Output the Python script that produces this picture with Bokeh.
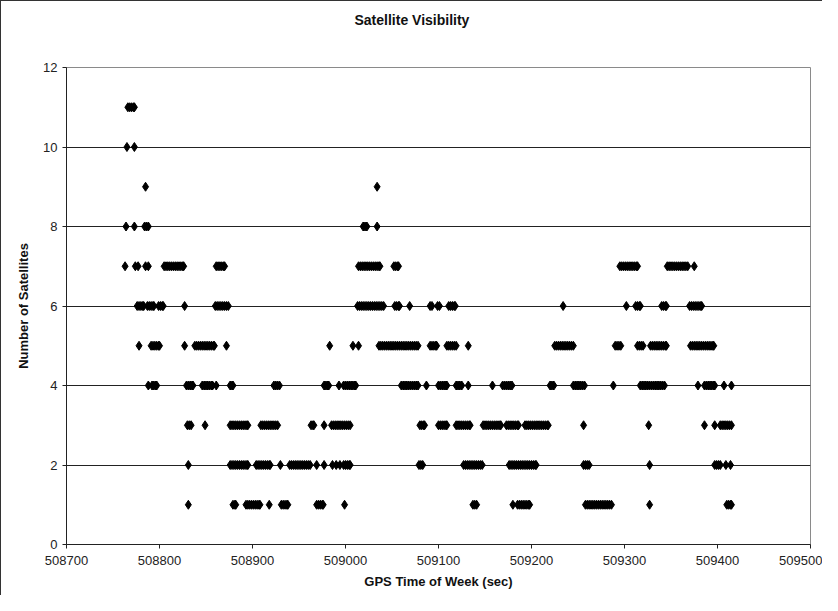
from bokeh.plotting import figure
from bokeh.models import Range1d, FixedTicker, ColumnDataSource, BasicTickFormatter, Title
from bokeh.embed import file_html
from bokeh.resources import INLINE

# ---- data: GPS time (sec) at which each satellite count was observed ----
sats_11 = [508766, 508768, 508770, 508772, 508773]
sats_10 = [508765, 508773]
sats_9 = [508785, 509034]
sats_8 = [508764, 508773, 508784, 508786, 508788, 509019, 509021, 509023, 509034]
sats_7 = [508763, 508774, 508777, 508785, 508788,
          508805, 508807, 508809, 508811, 508813, 508815, 508817, 508819, 508821, 508823, 508825, 508826,
          508861, 508863, 508865, 508867, 508869, 508870,
          509014, 509016, 509018, 509020, 509022, 509024, 509026, 509028, 509030, 509032, 509034, 509036, 509037,
          509052, 509054, 509056, 509057,
          509295, 509297, 509299, 509301, 509303, 509305, 509307, 509309, 509311, 509313, 509314,
          509346, 509348, 509350, 509352, 509354, 509356, 509358, 509360, 509362, 509364, 509366, 509368,
          509375]
sats_6 = [508776, 508778, 508780, 508782, 508783, 508787, 508789, 508791, 508793, 508794,
          508799, 508801, 508803, 508804, 508827,
          508860, 508862, 508864, 508866, 508868, 508870, 508872, 508874,
          509013, 509015, 509017, 509019, 509021, 509023, 509025, 509027, 509029, 509031, 509033, 509035,
          509037, 509039, 509041,
          509053, 509055, 509057, 509058, 509069, 509091, 509093, 509099, 509101,
          509111, 509113, 509115, 509117, 509118, 509234, 509302, 509312, 509314, 509316, 509317,
          509340, 509342, 509344, 509345,
          509370, 509372, 509374, 509376, 509378, 509380, 509382, 509383]
sats_5 = [508778, 508791, 508793, 508795, 508797, 508799, 508800, 508827,
          508838, 508840, 508842, 508844, 508846, 508848, 508850, 508852, 508854, 508856, 508858, 508859, 508872,
          508983, 509008, 509014,
          509036, 509038, 509040, 509042, 509044, 509046, 509048, 509050, 509052, 509054, 509056,
          509058, 509060, 509062, 509064, 509066, 509068, 509070, 509072, 509074, 509076, 509078,
          509091, 509093, 509095, 509097, 509098,
          509109, 509111, 509113, 509115, 509117, 509119, 509132,
          509225, 509227, 509229, 509231, 509233, 509235, 509237, 509239, 509241, 509243, 509245,
          509290, 509292, 509294, 509296,
          509314, 509316, 509318, 509320,
          509328, 509330, 509332, 509334, 509336, 509338, 509340, 509342, 509344, 509345,
          509371, 509373, 509375, 509377, 509379, 509381, 509383, 509385, 509387, 509389, 509391,
          509393, 509395, 509396]
sats_4 = [508788, 508792, 508794, 508796, 508797, 508829, 508831, 508833, 508835, 508836,
          508846, 508848, 508850, 508852, 508854, 508856, 508857, 508861,
          508876, 508878, 508879, 508923, 508925, 508927, 508929,
          508977, 508979, 508981, 508982, 508993, 508998, 509000, 509002, 509004, 509006, 509008, 509010, 509011,
          509060, 509062, 509064, 509066, 509068, 509070, 509072, 509074, 509076, 509078, 509087,
          509100, 509102, 509104, 509106, 509108, 509109,
          509119, 509121, 509123, 509125, 509132, 509158,
          509169, 509171, 509173, 509175, 509177, 509179,
          509220, 509222, 509224,
          509245, 509247, 509249, 509251, 509253, 509255, 509257, 509288,
          509317, 509319, 509321, 509323, 509325, 509327, 509329, 509331, 509333, 509335, 509337,
          509339, 509341, 509343,
          509379, 509386, 509388, 509390, 509392, 509394, 509396, 509397, 509407, 509415]
sats_3 = [508830, 508832, 508834, 508849,
          508876, 508878, 508880, 508882, 508884, 508886, 508888, 508890, 508892, 508894, 508895,
          508909, 508911, 508913, 508915, 508917, 508919, 508921, 508923, 508925, 508927,
          508963, 508965, 508966, 508977,
          508985, 508987, 508989, 508991, 508993, 508995, 508997, 508999, 509001, 509003, 509005,
          509080, 509082, 509084, 509085,
          509100, 509102, 509104, 509106, 509108, 509109,
          509119, 509121, 509123, 509125, 509127, 509129, 509131, 509133, 509134,
          509148, 509150, 509152, 509154, 509156, 509158, 509160, 509162, 509164, 509166, 509167,
          509173, 509175, 509177, 509179, 509181, 509183, 509185, 509186,
          509193, 509195, 509197, 509199, 509201, 509203, 509205, 509207, 509209, 509211, 509213,
          509215, 509217, 509218,
          509256, 509326, 509386, 509397, 509403, 509405, 509407, 509409, 509411, 509413, 509415]
sats_2 = [508831,
          508876, 508878, 508880, 508882, 508884, 508886, 508888, 508890, 508892, 508894, 508895,
          508904, 508906, 508908, 508910, 508912, 508914, 508916, 508918, 508919, 508930,
          508940, 508942, 508944, 508946, 508948, 508950, 508952, 508954, 508956, 508958, 508960, 508962,
          508969, 508977, 508986, 508990, 508994, 508998, 509000, 509002, 509004, 509005,
          509079, 509081, 509083,
          509127, 509129, 509131, 509133, 509135, 509137, 509139, 509141, 509143, 509145, 509147,
          509176, 509178, 509180, 509182, 509184, 509186, 509188, 509190, 509192, 509194, 509196,
          509198, 509200, 509202, 509204, 509205,
          509256, 509258, 509260, 509262, 509327, 509397, 509399, 509401, 509403, 509409, 509414]
sats_1 = [508831, 508879, 508881, 508882,
          508893, 508895, 508897, 508899, 508901, 508903, 508905, 508907, 508908, 508918,
          508931, 508933, 508935, 508937, 508938,
          508969, 508971, 508973, 508975, 508976, 508999,
          509137, 509139, 509141, 509180,
          509185, 509187, 509189, 509191, 509193, 509195, 509197, 509198,
          509258, 509260, 509262, 509264, 509266, 509268, 509270, 509272, 509274, 509276, 509278,
          509280, 509282, 509284, 509286, 509327, 509410, 509412, 509414, 509415]

sat_counts = [11, 10, 9, 8, 7, 6, 5, 4, 3, 2, 1]
sat_times = [sats_11, sats_10, sats_9, sats_8, sats_7, sats_6, sats_5, sats_4, sats_3, sats_2, sats_1]

y_ticks = [0, 2, 4, 6, 8, 10, 12]
x_ticks = [508700, 508800, 508900, 509000, 509100, 509200, 509300, 509400, 509500]
chart_title = "Satellite Visibility"

xs, ys = [], []
for n, times in zip(sat_counts, sat_times):
    xs.extend(times)
    ys.extend([n] * len(times))
source = ColumnDataSource(data=dict(t=xs, n=ys))

FONT = "Liberation Sans"

p = figure(width=822, height=595, output_backend="svg", toolbar_location=None,
           x_range=Range1d(508700, 509500), y_range=Range1d(0, 12),
           min_border_left=65, min_border_right=13, min_border_top=66, min_border_bottom=52,
           background_fill_color="white", border_fill_color="white")

# real title (outer panel)
p.title.text = chart_title
p.title.align = "left"
p.title.offset = 288
p.title.standoff = 16
p.title.text_font = FONT
p.title.text_font_size = "14px"
p.title.text_font_style = "bold"
p.title.text_color = "#111111"

# empty spacer title between the real title and the frame
p.add_layout(Title(text=" ", standoff=14, text_font=FONT, text_font_size="14px"), "above")

p.outline_line_color = "#8a8a8a"
p.outline_line_width = 1

p.xgrid.visible = False
p.ygrid.ticker = FixedTicker(ticks=[2, 4, 6, 8, 10])
p.ygrid.grid_line_color = "#222222"
p.ygrid.grid_line_width = 1

p.xaxis.ticker = FixedTicker(ticks=x_ticks)
p.yaxis.ticker = FixedTicker(ticks=y_ticks)
p.xaxis.formatter = BasicTickFormatter(use_scientific=False)
for ax in (p.xaxis[0], p.yaxis[0]):
    ax.axis_line_color = "#222222"
    ax.major_tick_line_color = "#222222"
    ax.major_tick_out = 4
    ax.major_tick_in = 0
    ax.minor_tick_line_color = None
    ax.major_label_text_font = FONT
    ax.major_label_text_font_size = "13px"
    ax.major_label_text_color = "#222222"
    ax.axis_label_text_font = FONT
    ax.axis_label_text_font_size = "13px"
    ax.axis_label_text_font_style = "bold"
    ax.axis_label_text_color = "#111111"

p.xaxis.axis_label = "GPS Time of Week (sec)"
p.yaxis.axis_label = "Number of Satellites"
p.xaxis.major_label_standoff = 7
p.yaxis.major_label_standoff = 5
p.xaxis.axis_label_standoff = 6
p.yaxis.axis_label_standoff = 9

p.scatter(x="t", y="n", source=source, marker="diamond", size=9,
          fill_color="black", line_color="black")

p.styles = {"border-top": "1px solid #333", "border-left": "1px solid #333"}

open("out.html", "w").write(file_html(p, INLINE))
